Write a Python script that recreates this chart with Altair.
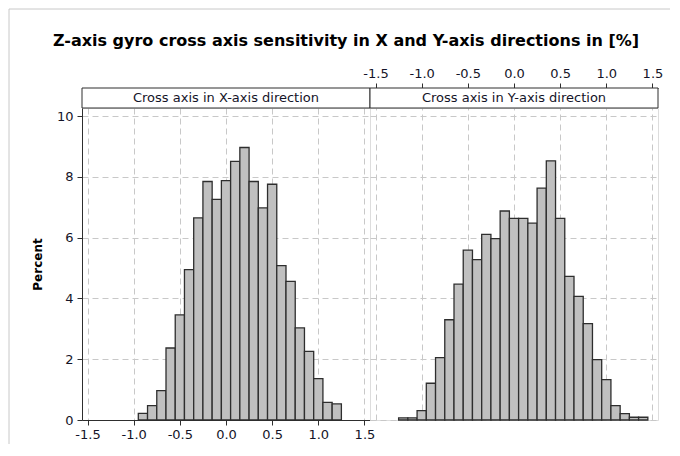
import altair as alt
import pandas as pd

# ---- data ----
left_centers = [-0.9, -0.8, -0.7, -0.6, -0.5, -0.4, -0.3, -0.2, -0.1, 0.0, 0.1,
                0.2, 0.3, 0.4, 0.5, 0.6, 0.7, 0.8, 0.9, 1.0, 1.1, 1.2]
left_pct = [0.22, 0.47, 0.97, 2.37, 3.46, 4.95, 6.65, 7.85, 7.26, 7.88, 8.51,
            8.97, 7.85, 6.98, 7.76, 5.08, 4.56, 3.03, 2.26, 1.36, 0.58, 0.53]

right_centers = [-1.2, -1.1, -1.0, -0.9, -0.8, -0.7, -0.6, -0.5, -0.4, -0.3, -0.2,
                 -0.1, 0.0, 0.1, 0.2, 0.3, 0.4, 0.5, 0.6, 0.7, 0.8, 0.9, 1.0,
                 1.1, 1.2, 1.3, 1.4]
right_pct = [0.07, 0.07, 0.31, 1.21, 2.05, 3.30, 4.47, 5.59, 5.28, 6.11, 5.97,
             6.88, 6.64, 6.64, 6.48, 7.63, 8.53, 6.64, 4.73, 4.07, 3.17, 1.99, 1.33,
             0.47, 0.21, 0.09, 0.09]

bin_width = 0.1
x_ticks = [-1.5, -1.0, -0.5, 0.0, 0.5, 1.0, 1.5]
y_ticks = [0, 2, 4, 6, 8, 10]
headers = ["Cross axis in X-axis direction", "Cross axis in Y-axis direction"]
title_text = "Z-axis gyro cross axis sensitivity in X and Y-axis directions in [%]"
y_title = "Percent"

# ---- layout / style ----
W, H = 288, 312
HEAD = 20
FONT = "DejaVu Sans"
DARK = "#2e2e2e"
GRID = "#c8c8c8"
TXT = "#141428"
xscale = alt.Scale(domain=[-1.56, 1.56], nice=False, zero=False)
yscale = alt.Scale(domain=[0, 10.27], nice=False, zero=True)
x_label_expr = "replace(format(datum.value, '.1f'), '\u2212', '-')"


def bar_layer(centers, pct, x_axis, y_axis):
    df = pd.DataFrame({"c": centers, "p": pct})
    df["lo"] = (df["c"] - bin_width / 2).round(3)
    df["hi"] = (df["c"] + bin_width / 2).round(3)
    return alt.Chart(df).mark_rect(fill="#c0c0c0", stroke=DARK, strokeWidth=1.3).encode(
        x=alt.X("lo:Q", scale=xscale, axis=x_axis),
        x2="hi:Q",
        y=alt.Y("p:Q", scale=yscale, axis=y_axis),
        y2=alt.datum(0),
    )


def header_layers(text):
    hd = pd.DataFrame({"h": [text]})
    box = alt.Chart(hd).mark_rect(fill="white", stroke=DARK, strokeWidth=1).encode(
        x=alt.value(0), x2=alt.value(W), y=alt.value(-HEAD), y2=alt.value(0)
    )
    lab = alt.Chart(hd).mark_text(
        font=FONT, fontSize=13, color=TXT, baseline="middle", align="center"
    ).encode(x=alt.value(W / 2), y=alt.value(-HEAD / 2), text="h:N")
    return [box, lab]


axis_common = dict(
    values=x_ticks, labelExpr=x_label_expr, tickSize=5, tickColor=DARK, domainColor=DARK,
    labelFont=FONT, labelFontSize=13, labelColor=TXT,
    gridColor=GRID, gridDash=[6, 4], gridWidth=1, title=None,
)

left_x_axis = alt.Axis(orient="bottom", grid=True, labelPadding=3, **axis_common)
right_x_axis = alt.Axis(orient="top", grid=True, offset=HEAD, labelPadding=3, **axis_common)

left_y_axis = alt.Axis(
    values=y_ticks, format="d", tickSize=5, tickColor=DARK, domainColor=DARK,
    labelFont=FONT, labelFontSize=13, labelColor=TXT, labelPadding=4,
    grid=True, gridColor=GRID, gridDash=[6, 4],
    title=y_title, titleFont=FONT, titleFontSize=12, titleFontWeight="bold",
    titleColor="#000000", titlePadding=12,
)
right_y_axis = alt.Axis(
    values=y_ticks, labels=False, ticks=False, domain=False, title=None,
    grid=True, gridColor=GRID, gridDash=[6, 4],
)

# outer light frame and chart title (drawn relative to the left panel)
one = pd.DataFrame({"t": [title_text]})
frame_v = alt.Chart(one).mark_rule(color="#c8c8c8", strokeWidth=1).encode(
    x=alt.value(-73), y=alt.value(-99), y2=alt.value(336)
)
frame_h = alt.Chart(one).mark_rule(color="#c8c8c8", strokeWidth=1).encode(
    x=alt.value(-73), x2=alt.value(588), y=alt.value(-99)
)
title_mark = alt.Chart(one).mark_text(
    font=FONT, fontSize=16, fontWeight="bold", color="#000000",
    align="center", baseline="alphabetic"
).encode(x=alt.value(264), y=alt.value(-62), text="t:N")

left = alt.layer(
    frame_v, frame_h, title_mark,
    bar_layer(left_centers, left_pct, left_x_axis, left_y_axis),
    *header_layers(headers[0]),
).properties(width=W, height=H)

right = alt.layer(
    bar_layer(right_centers, right_pct, right_x_axis, right_y_axis),
    *header_layers(headers[1]),
).properties(width=W, height=H)

chart = (
    alt.hconcat(left, right, spacing=0, bounds="flush")
    .properties(padding=0)
    .configure_view(stroke=DARK, strokeWidth=1)
    .configure(background="white")
)

chart.save("out.html", embed_options={"renderer": "svg", "actions": False})
